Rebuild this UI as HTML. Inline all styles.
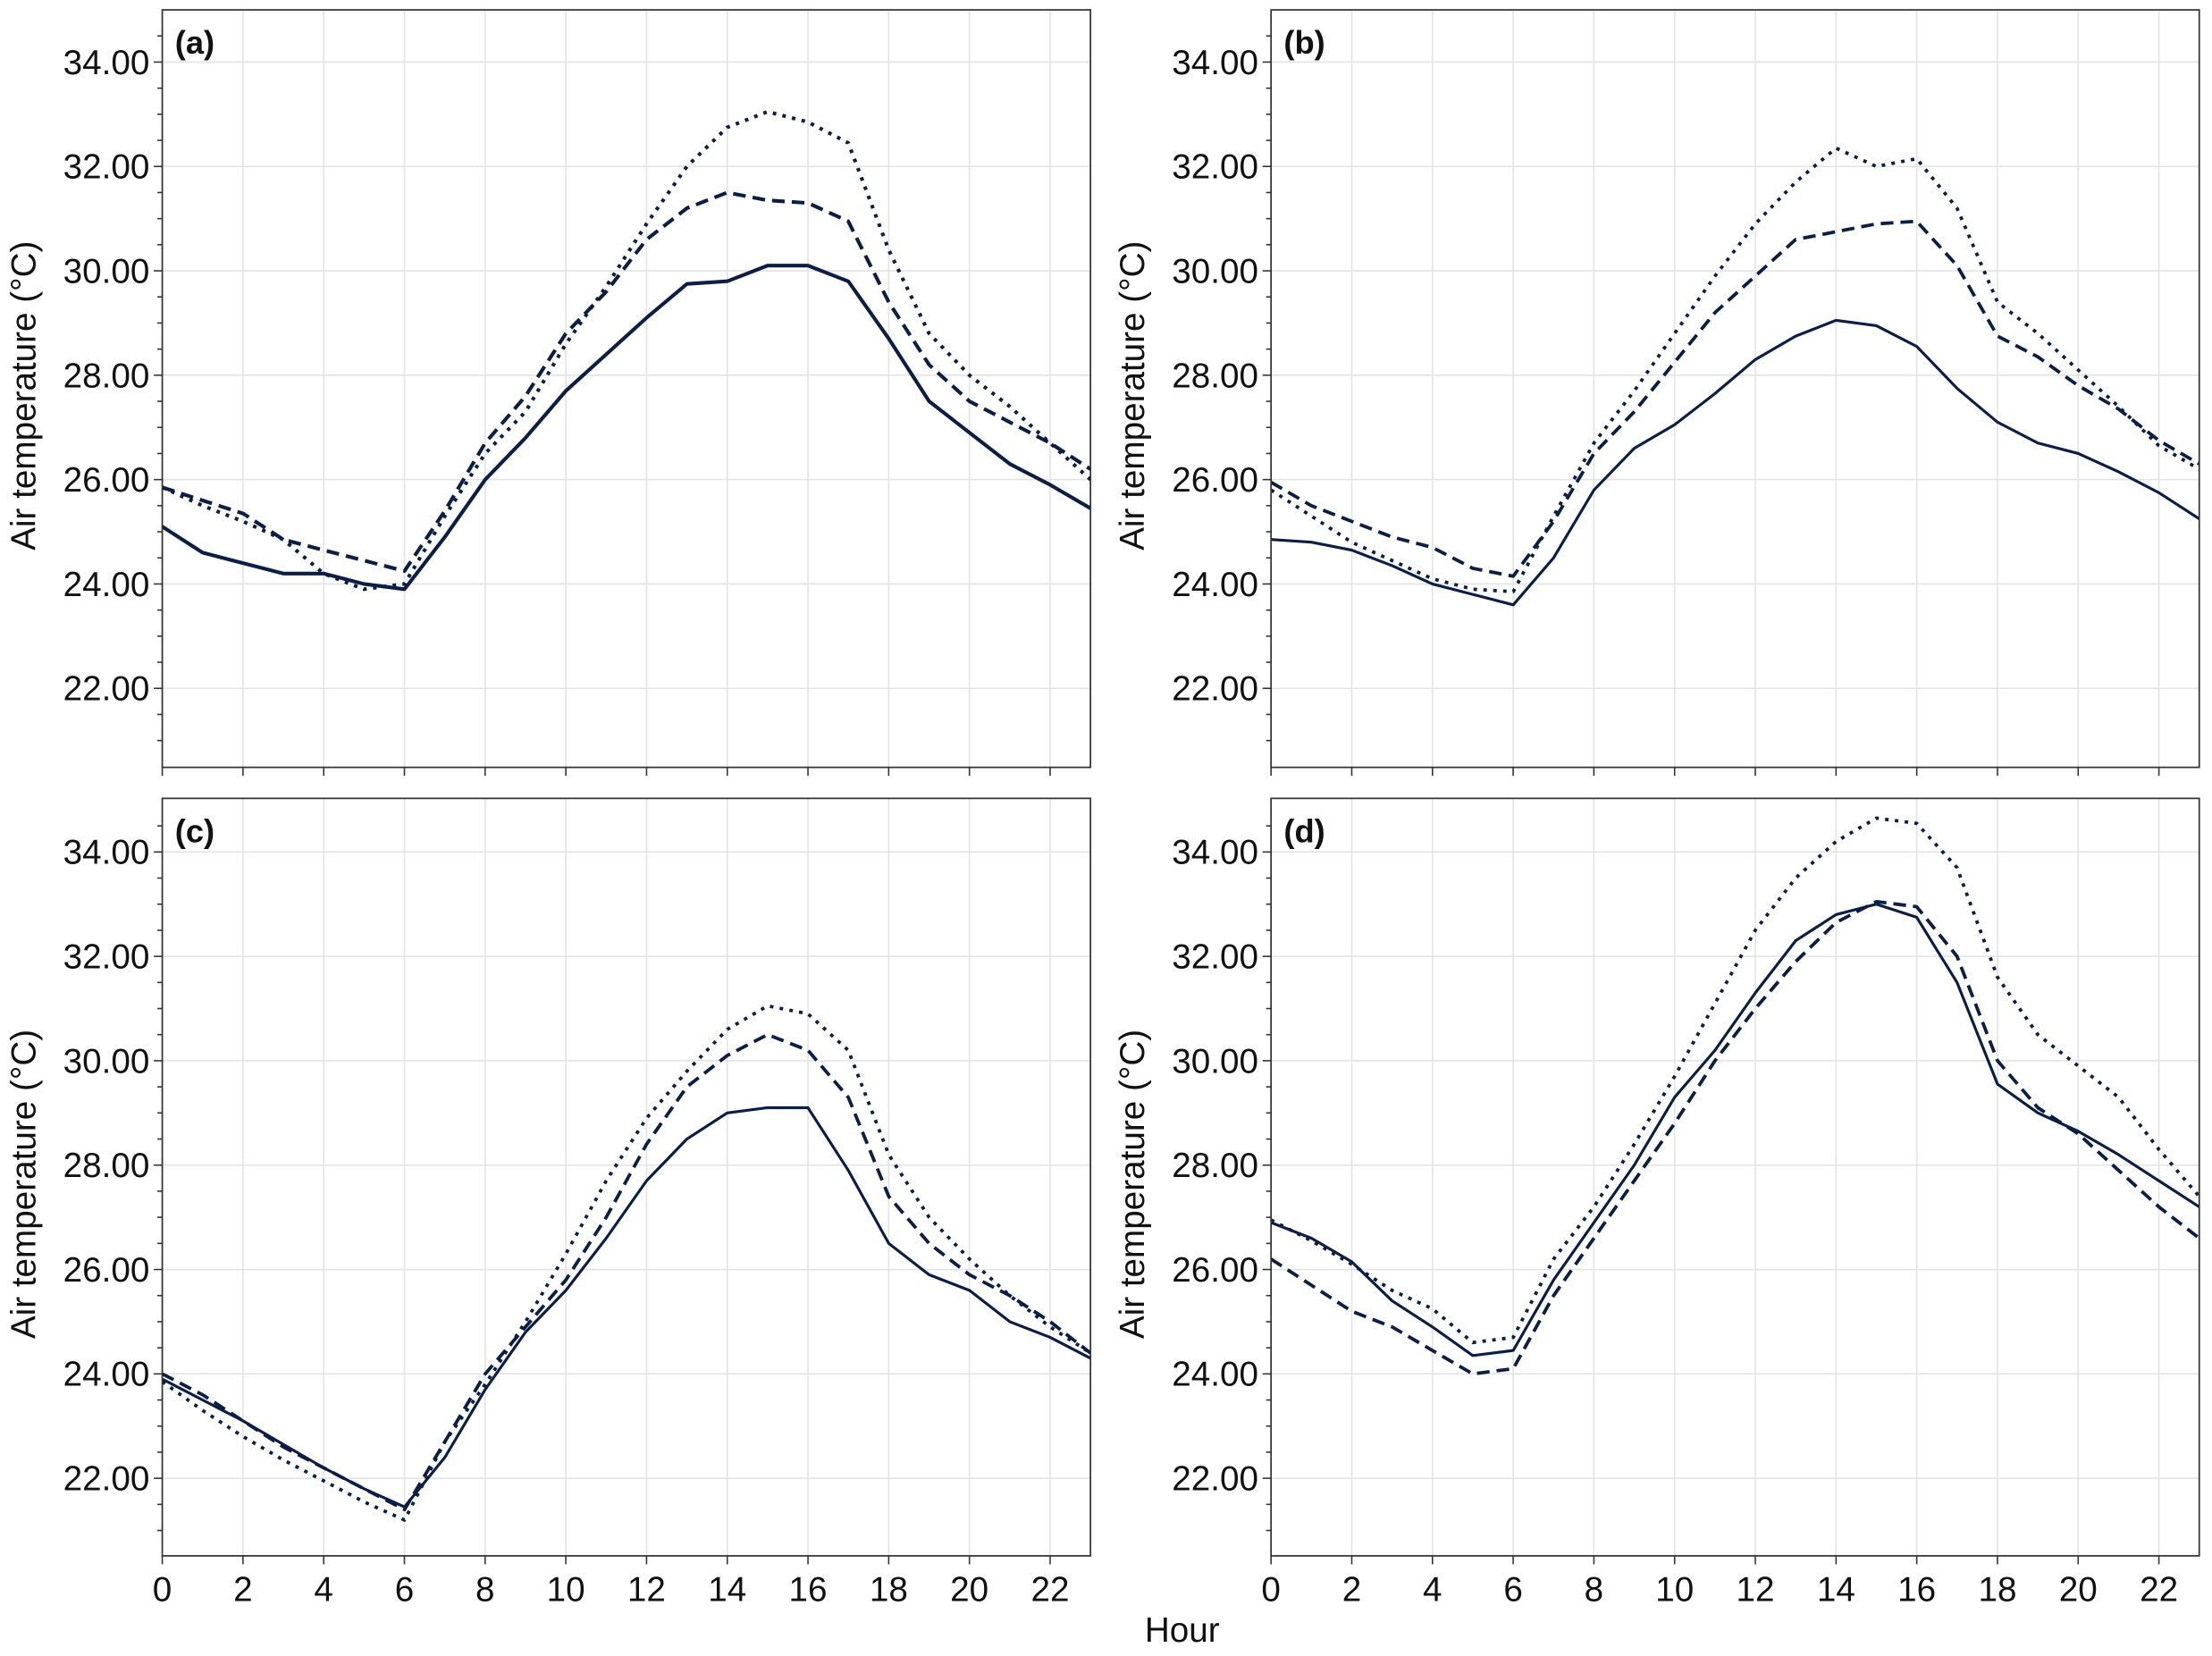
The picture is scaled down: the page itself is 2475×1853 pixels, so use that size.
<!DOCTYPE html>
<html><head><meta charset="utf-8"><style>
html,body{margin:0;padding:0;background:#fff}
svg{display:block}
text{font-family:"Liberation Sans",sans-serif;fill:#111}
</style></head><body>
<svg id="s" width="2475" height="1853" viewBox="0 0 1568 1174" xmlns="http://www.w3.org/2000/svg"></svg>
<script>
const S=document.getElementById('s');
const C='#0d1e45';
const D={
a:[[25.1,24.6,24.4,24.2,24.2,24.0,23.9,24.9,26.0,26.8,27.7,28.4,29.1,29.75,29.8,30.1,30.1,29.8,28.7,27.5,26.9,26.3,25.9,25.45],
[25.85,25.6,25.35,24.85,24.65,24.45,24.25,25.4,26.7,27.6,28.8,29.6,30.6,31.2,31.5,31.35,31.3,30.95,29.4,28.2,27.5,27.1,26.7,26.2],
[25.85,25.5,25.2,24.85,24.2,23.9,24.0,25.3,26.5,27.3,28.6,29.7,30.9,32.0,32.75,33.05,32.85,32.45,30.4,28.8,28.0,27.4,26.7,26.0]],
b:[[24.85,24.8,24.65,24.35,24.0,23.8,23.6,24.5,25.8,26.6,27.05,27.65,28.3,28.75,29.05,28.95,28.55,27.75,27.1,26.7,26.5,26.15,25.75,25.25],
[25.95,25.5,25.2,24.9,24.7,24.3,24.15,25.2,26.5,27.3,28.25,29.2,29.9,30.6,30.75,30.9,30.95,30.1,28.75,28.35,27.8,27.35,26.75,26.3],
[25.8,25.3,24.8,24.45,24.1,23.9,23.85,25.3,26.7,27.7,28.8,29.9,30.9,31.7,32.35,32.0,32.15,31.2,29.4,28.8,28.1,27.4,26.65,26.2]],
c:[[23.9,23.5,23.1,22.65,22.2,21.8,21.45,22.4,23.7,24.8,25.6,26.6,27.7,28.5,29.0,29.1,29.1,27.9,26.5,25.9,25.6,25.0,24.7,24.3],
[24.0,23.6,23.1,22.6,22.2,21.8,21.4,22.7,24.0,24.9,25.8,27.0,28.4,29.5,30.1,30.5,30.2,29.3,27.4,26.5,25.9,25.5,25.0,24.4],
[23.85,23.3,22.8,22.35,21.95,21.55,21.2,22.7,23.8,25.0,26.3,27.7,28.9,29.8,30.6,31.05,30.9,30.2,28.2,27.0,26.2,25.5,24.9,24.4]],
d:[[26.9,26.6,26.15,25.4,24.9,24.35,24.45,25.8,26.9,28.0,29.3,30.2,31.3,32.3,32.8,33.0,32.75,31.5,29.55,29.0,28.65,28.2,27.7,27.2],
[26.2,25.7,25.2,24.9,24.45,24.0,24.1,25.5,26.6,27.7,28.8,30.0,31.0,31.9,32.65,33.05,32.95,32.0,30.0,29.1,28.6,27.9,27.2,26.6],
[26.95,26.55,26.1,25.6,25.25,24.6,24.7,26.2,27.2,28.4,29.7,31.1,32.5,33.5,34.2,34.65,34.55,33.7,31.6,30.5,29.9,29.3,28.3,27.4]]};
const P=[['a',115,7,44,true],['b',901,7,44,true],['c',115,566,604,false],['d',901,566,604,false]];
let h='';
const W=658,pxh=W/23,pu=37;
for(const [k,x0,top,y34,lab] of P){
  const bot=top+537;
  const X=t=>x0+t*pxh, Y=v=>y34+(34-v)*pu;
  h+=`<clipPath id="cp${k}"><rect x="${x0}" y="${top}" width="${W}" height="${bot-top}"/></clipPath>`;
  for(let t=0;t<=22;t+=2)h+=`<line x1="${X(t)}" x2="${X(t)}" y1="${top}" y2="${bot}" stroke="#e3e3e3" stroke-width="1"/>`;
  for(let v=22;v<=34;v+=2)h+=`<line x1="${x0}" x2="${x0+W}" y1="${Y(v)}" y2="${Y(v)}" stroke="#e3e3e3" stroke-width="1"/>`;
  const dash=[null,'9,5','2.5,4.5'];
  const lw=k=='a'?[2.6,2.6,2.6]:[2,2.4,2.4];
  D[k].forEach((arr,i)=>{
    const pts=arr.map((v,t)=>X(t).toFixed(1)+','+Y(v).toFixed(1)).join(' ');
    h+=`<polyline clip-path="url(#cp${k})" points="${pts}" fill="none" stroke="${C}" stroke-width="${lw[i]}" stroke-linejoin="round" ${dash[i]?`stroke-dasharray="${dash[i]}"`:''}/>`;
  });
  h+=`<rect x="${x0}" y="${top}" width="${W}" height="${bot-top}" fill="none" stroke="#333" stroke-width="1.1"/>`;
  for(let v=21;v<=34.6;v+=0.5){const y=Y(v);if(y<top||y>bot)continue;
    const maj=Math.abs(v%2)<1e-6;
    h+=`<line x1="${x0-(maj?6:3.5)}" x2="${x0}" y1="${y}" y2="${y}" stroke="#333" stroke-width="1"/>`;
    if(maj)h+=`<text x="${x0-9}" y="${y+8.5}" font-size="24.5" text-anchor="end">${v.toFixed(2)}</text>`;}
  for(let t=0;t<=22;t+=2){h+=`<line x1="${X(t)}" x2="${X(t)}" y1="${bot}" y2="${bot+6}" stroke="#333" stroke-width="1"/>`;
    if(!lab)h+=`<text x="${X(t)}" y="${bot+32}" font-size="24.5" text-anchor="middle">${t}</text>`;}
  h+=`<text x="${x0+9}" y="${top+31}" font-size="23" font-weight="bold">(${k})</text>`;
  const cy=(top+bot)/2;
  h+=`<text transform="translate(${x0-90},${cy+5}) rotate(-90)" font-size="24.5" text-anchor="middle">Air temperature (°C)</text>`;
}
h+=`<text x="838" y="1164" font-size="24.5" text-anchor="middle">Hour</text>`;
S.innerHTML=h;
</script>
</body></html>
